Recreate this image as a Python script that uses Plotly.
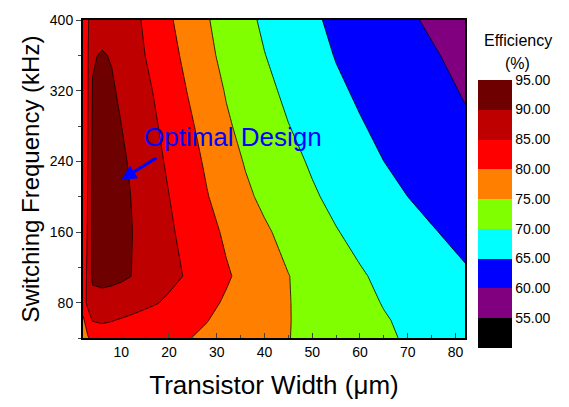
import plotly.graph_objects as go

# Transistor width (um) grid
width_um = [2, 3, 4, 6, 8, 10, 12, 14, 17, 20, 24, 28, 32, 36, 40, 45, 50, 55, 60, 65, 70, 76, 82]
# Switching frequency (kHz) grid
freq_khz = [40, 60, 80, 110, 160, 200, 240, 280, 320, 360, 400]

# Efficiency (%) rows, one per frequency
eff_40  = [76.5, 79.5, 81.5, 82.4, 82.3, 82.0, 81.7, 81.4, 81.0, 80.6, 80.15, 79.3, 78.3, 77.3, 76.35, 75.1, 74.0, 72.9, 71.8, 70.6, 69.6, 68.3, 67.2]
eff_60  = [79.0, 83.0, 85.2, 85.6, 85.2, 84.6, 84.0, 83.4, 82.6, 81.8, 80.9, 80.1, 78.9, 77.8, 76.6, 75.15, 73.9, 72.7, 71.5, 70.3, 69.3, 68.1, 67.0]
eff_80  = [83.0, 86.0, 88.0, 88.4, 88.3, 88.0, 87.25, 86.5, 85.4, 84.2, 82.6, 81.0, 79.5, 78.2, 76.8, 75.15, 73.8, 72.4, 71.1, 69.8, 68.8, 67.7, 66.5]
eff_110 = [82.3, 86.0, 91.0, 91.3, 91.0, 90.6, 90.05, 89.1, 87.7, 86.3, 84.5, 82.5, 80.5, 78.8, 77.1, 75.1, 73.5, 72.0, 70.4, 69.2, 68.2, 66.9, 65.6]
eff_160 = [83.0, 85.3, 91.2, 92.3, 92.0, 91.3, 90.2, 89.1, 87.4, 85.7, 83.5, 81.4, 79.3, 77.5, 75.6, 73.7, 71.9, 70.2, 68.9, 67.7, 66.5, 65.1, 63.6]
eff_200 = [83.3, 85.1, 91.2, 92.3, 92.0, 91.2, 90.0, 88.8, 86.9, 85.06, 82.6, 80.2, 78.0, 75.8, 74.1, 72.3, 70.5, 69.0, 67.7, 66.3, 65.0, 63.5, 62.0]
eff_240 = [83.5, 85.0, 91.0, 92.0, 91.8, 90.8, 89.5, 88.2, 86.2, 84.3, 81.8, 79.3, 76.9, 74.7, 73.2, 71.2, 69.5, 68.0, 66.5, 65.0, 63.95, 62.7, 61.5]
eff_280 = [83.5, 84.8, 90.6, 91.5, 91.0, 90.05, 88.75, 87.4, 85.5, 83.5, 80.9, 78.2, 75.6, 73.75, 72.1, 70.1, 68.5, 66.9, 65.3, 64.1, 63.0, 61.8, 60.5]
eff_320 = [83.5, 84.7, 90.2, 91.0, 90.5, 89.3, 88.0, 86.7, 84.7, 82.6, 79.8, 77.2, 74.7, 72.9, 71.1, 69.1, 67.4, 65.7, 64.4, 63.3, 62.3, 61.0, 59.7]
eff_360 = [83.3, 84.6, 89.7, 90.3, 89.75, 88.4, 87.0, 85.7, 83.6, 81.5, 78.8, 76.0, 73.8, 72.0, 70.1, 68.3, 66.5, 64.8, 63.7, 62.6, 61.5, 60.2, 58.8]
eff_400 = [83.0, 84.7, 86.3, 88.3, 88.0, 87.0, 86.1, 85.1, 82.9, 80.6, 77.9, 75.3, 73.2, 71.1, 69.3, 67.4, 65.6, 64.2, 63.0, 61.8, 60.6, 59.15, 57.65]

efficiency = [eff_40, eff_60, eff_80, eff_110, eff_160, eff_200, eff_240, eff_280, eff_320, eff_360, eff_400]

# Level settings and band colours (50-55 ... 90-95)
level_start, level_end, level_step = 55, 95, 5
cbar_min, cbar_max = 50, 95
band_colors = ["#000000", "#800080", "#0000ff", "#00ffff", "#80ff00",
               "#ff8000", "#ff0000", "#bf0000", "#6e0000"]
cbar_ticks = [55, 60, 65, 70, 75, 80, 85, 90, 95]

n = len(band_colors)
colorscale = []
for i, c in enumerate(band_colors):
    colorscale.append([i / n, c])
    colorscale.append([(i + 1) / n, c])

FONT = "Arial, Liberation Sans, sans-serif"

fig = go.Figure()
fig.add_trace(go.Contour(
    x=width_um, y=freq_khz, z=efficiency,
    autocontour=False,
    contours=dict(start=level_start, end=level_end, size=level_step,
                  coloring="fill", showlines=True),
    line=dict(color="black", width=0.8, smoothing=0),
    colorscale=colorscale,
    showscale=False,
    hoverinfo="skip",
))

# colour bar only (no visible marks)
fig.add_trace(go.Scatter(
    x=[width_um[0], width_um[0]], y=[freq_khz[0], freq_khz[0]],
    mode="markers", hoverinfo="skip",
    marker=dict(size=0.1, opacity=0, color=[cbar_min, cbar_max],
                cmin=cbar_min, cmax=cbar_max, colorscale=colorscale,
                showscale=True,
                colorbar=dict(
                    thickness=34, len=268, lenmode="pixels",
                    x=1.034, xanchor="left", xpad=0,
                    y=0.812, yanchor="top", ypad=0,
                    tickvals=cbar_ticks, ticktext=[f"{v:.2f}" for v in cbar_ticks],
                    tickfont=dict(family=FONT, size=14, color="black"),
                    outlinewidth=0, ticks="",
                )),
))

fig.add_annotation(x=33.4, y=268, xref="x", yref="y", text="Optimal Design",
                   showarrow=False, font=dict(family=FONT, size=26, color="#0000ff"))
fig.add_annotation(x=10, y=219, xref="x", yref="y", ax=17.7, ay=245,
                   axref="x", ayref="y", text="", showarrow=True,
                   arrowhead=2, arrowsize=1, arrowwidth=3, arrowcolor="#0000ff")
fig.add_annotation(x=1.1387, y=0.934, xref="paper", yref="paper",
                   xanchor="center", yanchor="middle",
                   text="Efficiency", showarrow=False,
                   font=dict(family=FONT, size=16, color="black"))
fig.add_annotation(x=1.1387, y=0.8627, xref="paper", yref="paper",
                   xanchor="center", yanchor="middle",
                   text="(%)", showarrow=False,
                   font=dict(family=FONT, size=16, color="black"))

fig.update_layout(
    width=569, height=407,
    margin=dict(l=83, r=104, t=12, b=60),
    paper_bgcolor="white", plot_bgcolor="white",
    font=dict(family=FONT, color="black"),
    showlegend=False,
)
fig.update_xaxes(
    range=[2, 82], tick0=0, dtick=10, ticks="inside", ticklen=5, tickwidth=1,
    minor=dict(dtick=5, ticks="inside", ticklen=3),
    showline=True, linecolor="black", linewidth=2, mirror=True,
    showgrid=False, zeroline=False,
    tickfont=dict(family=FONT, size=14),
    title=dict(text="Transistor Width (\u03bcm)", font=dict(family=FONT, size=26), standoff=17),
)
fig.update_yaxes(
    range=[40, 400], tick0=0, dtick=80, ticks="outside", ticklen=5, tickwidth=1,
    minor=dict(dtick=40, ticks="outside", ticklen=3),
    showline=True, linecolor="black", linewidth=2, mirror=True,
    showgrid=False, zeroline=False,
    tickfont=dict(family=FONT, size=14),
    title=dict(text="Switching Frequency (kHz)", font=dict(family=FONT, size=24), standoff=3),
)

fig.write_html("out.html")
